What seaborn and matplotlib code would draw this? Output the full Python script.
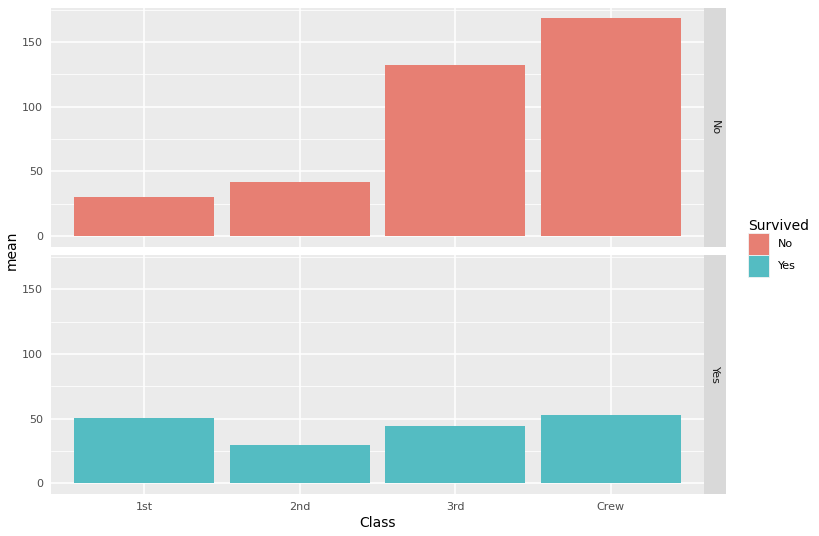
import numpy as np
import pandas as pd
import matplotlib
matplotlib.use("Agg")
import matplotlib.pyplot as plt
from matplotlib.patches import Rectangle
import seaborn as sns

# Titanic counts, averaged over Sex x Age for each Class / Survived
classes = ["1st", "2nd", "3rd", "Crew"]
mean_no = [30.5, 41.75, 132.0, 168.25]
mean_yes = [50.75, 29.5, 44.5, 53.0]
survived_levels = ["No", "Yes"]
yticks = [0, 50, 100, 150]
minor_yticks = [25, 75, 125, 175]

df = pd.DataFrame({
    "Class": classes * 2,
    "mean": mean_no + mean_yes,
    "Survived": ["No"] * 4 + ["Yes"] * 4,
})

colors = {"No": "#E77F73", "Yes": "#54BCC2"}
bg = "#EBEBEB"
strip_bg = "#D9D9D9"
tick_col = "#4D4D4D"

sns.set_theme(style="white")
plt.rcParams["font.family"] = ["DejaVu Sans"]

W, H = 820, 536
fig = plt.figure(figsize=(W / 100, H / 100), dpi=100)


def box(x0, y0, x1, y1):
    # pixel box (top-left origin) -> figure fraction
    return [x0 / W, 1 - y1 / H, (x1 - x0) / W, (y1 - y0) / H]


ymax = max(df["mean"])
ylo, yhi = -0.05 * ymax, 1.05 * ymax
panels = [(7.6, 247), (255, 494)]
px0, px1 = 51, 704

for i, s in enumerate(survived_levels):
    top, bot = panels[i]
    ax = fig.add_axes(box(px0, top, px1, bot))
    ax.set_facecolor(bg)
    sub = df[df["Survived"] == s]
    sns.barplot(data=sub, x="Class", y="mean", color=colors[s], saturation=1,
                width=0.9, order=classes, errorbar=None, ax=ax, zorder=3,
                edgecolor="none")
    ax.set_xlim(-0.6, 3.6)
    ax.set_ylim(ylo, yhi)
    ax.set_yticks(yticks)
    ax.set_yticks(minor_yticks, minor=True)
    ax.grid(True, which="major", color="white", lw=1.1, zorder=1)
    ax.grid(True, which="minor", axis="y", color="white", lw=0.55, zorder=1)
    ax.set_axisbelow(True)
    for sp in ax.spines.values():
        sp.set_visible(False)
    ax.tick_params(axis="both", which="major", length=3.4, width=0.8,
                   color="#333333", labelcolor=tick_col, labelsize=8, pad=2.5)
    ax.tick_params(axis="both", which="minor", length=0)
    ax.set_ylabel("")
    if i == 0:
        ax.set_xlabel("")
        ax.tick_params(axis="x", which="both", length=0, labelbottom=False)
    else:
        ax.set_xlabel("Class", fontsize=10, color="black", labelpad=3)

    # facet strip on the right
    sax = fig.add_axes(box(px1, top, 726, bot))
    sax.set_facecolor(strip_bg)
    sax.set_xticks([])
    sax.set_yticks([])
    for sp in sax.spines.values():
        sp.set_visible(False)
    sax.text(0.5, 0.5, s, rotation=-90, ha="center", va="center",
             fontsize=8, color="#1A1A1A", transform=sax.transAxes)

fig.text(12 / W, 1 - 250 / H, "mean", rotation=90, ha="center", va="center",
         fontsize=10, color="black")

# legend drawn ggplot style: square keys stacked with no gap
fig.text(748 / W, 1 - 226 / H, "Survived", ha="left", va="center",
         fontsize=10, color="black")
key_top = 233
for j, s in enumerate(survived_levels):
    y0 = key_top + j * 22.5
    fig.patches.append(Rectangle((748 / W, 1 - (y0 + 21.5) / H), 21.5 / W, 21.5 / H,
                                 transform=fig.transFigure, facecolor=colors[s],
                                 edgecolor="#F2F2F2", lw=0.6))
    fig.text(778 / W, 1 - (y0 + 10.8) / H, s, ha="left", va="center",
             fontsize=8, color="black")

fig.savefig("out.png", dpi=100)
